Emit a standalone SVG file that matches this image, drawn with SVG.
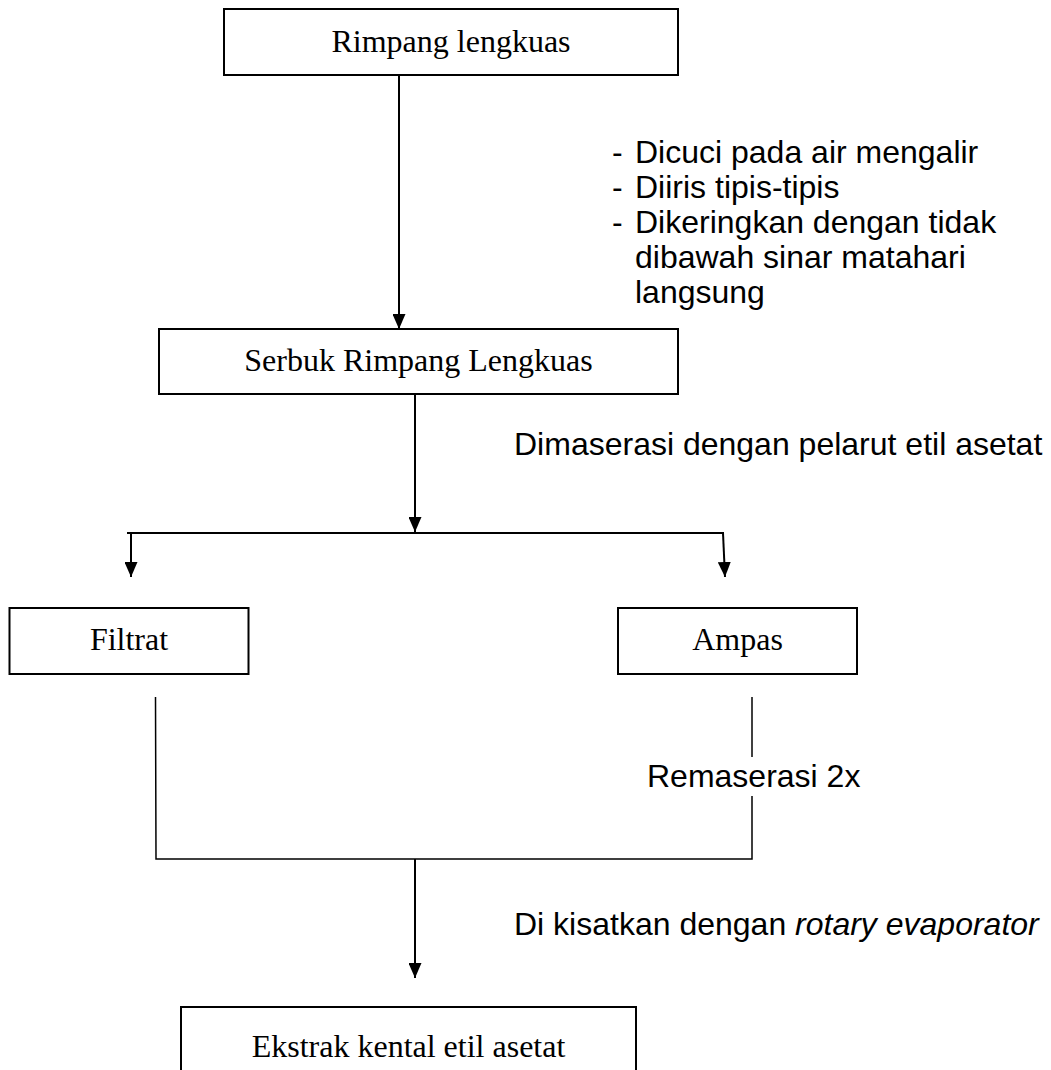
<svg xmlns="http://www.w3.org/2000/svg" width="1051" height="1070" viewBox="0 0 1051 1070">
<style>
.box{fill:#fff;stroke:#000;stroke-width:2}
.t{font-family:"Liberation Serif","Times New Roman",serif;font-size:32px;fill:#000}
.a{font-family:"Liberation Sans",Arial,sans-serif;font-size:32px;fill:#000}
.ln{fill:none;stroke:#000;stroke-width:2}
.thin{fill:none;stroke:#000;stroke-width:1.5}
</style>
<defs>
<marker id="ah" markerUnits="userSpaceOnUse" markerWidth="16" markerHeight="13" refX="15" refY="6.5" orient="auto">
<path d="M0,0 L15,6.5 L0,13 z" fill="#000"/>
</marker>
</defs>
<rect width="1051" height="1070" fill="#fff"/>
<g id="connectors">
<line class="ln" x1="399" y1="75" x2="399" y2="329" marker-end="url(#ah)"/>
<line class="ln" x1="415" y1="394" x2="415" y2="532" marker-end="url(#ah)"/>
<line class="ln" x1="127" y1="533" x2="724" y2="533"/>
<line class="ln" x1="131" y1="533" x2="131" y2="577" marker-end="url(#ah)"/>
<line class="ln" x1="723" y1="533" x2="725" y2="577" marker-end="url(#ah)"/>
<polyline class="thin" points="155.5,697 156,859 752,859 752,796"/>
<line class="thin" x1="752" y1="697" x2="752" y2="757"/>
<line class="ln" x1="415" y1="859" x2="415" y2="978" marker-end="url(#ah)"/>
</g>
<g id="n1">
<rect class="box" x="224" y="9" width="454" height="66"/>
<text class="t" x="451" y="52" text-anchor="middle">Rimpang lengkuas</text>
</g>
<g id="label-steps">
<text class="a" x="612" y="163">-</text><text class="a" x="635" y="163">Dicuci pada air mengalir</text>
<text class="a" x="612" y="198">-</text><text class="a" x="635" y="198">Diiris tipis-tipis</text>
<text class="a" x="612" y="233">-</text><text class="a" x="635" y="233">Dikeringkan dengan tidak</text>
<text class="a" x="635" y="268">dibawah sinar matahari</text>
<text class="a" x="635" y="303">langsung</text>
</g>
<g id="n2">
<rect class="box" x="159" y="329" width="519" height="65"/>
<text class="t" x="418.5" y="371" text-anchor="middle">Serbuk Rimpang Lengkuas</text>
</g>
<g id="label-maserasi">
<text class="a" x="514" y="455">Dimaserasi dengan pelarut etil asetat</text>
</g>
<g id="n3">
<rect class="box" x="9.5" y="608" width="239" height="66"/>
<text class="t" x="129" y="650" text-anchor="middle">Filtrat</text>
</g>
<g id="n4">
<rect class="box" x="618" y="608" width="239" height="66"/>
<text class="t" x="737.5" y="650" text-anchor="middle">Ampas</text>
</g>
<g id="label-remaserasi">
<text class="a" x="647" y="787">Remaserasi 2x</text>
</g>
<g id="label-kisatkan">
<text class="a" x="514" y="935">Di kisatkan dengan <tspan font-style="italic">rotary evaporator</tspan></text>
</g>
<g id="n5">
<rect class="box" x="181" y="1007" width="455" height="100"/>
<text class="t" x="408.5" y="1057" text-anchor="middle">Ekstrak kental etil asetat</text>
</g>
</svg>
